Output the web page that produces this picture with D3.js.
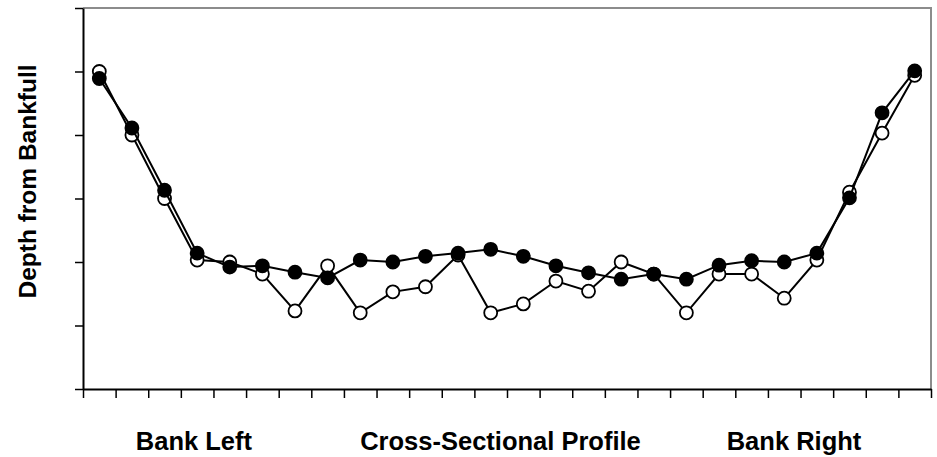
<!DOCTYPE html>
<html>
<head>
<meta charset="utf-8">
<script src="https://cdn.jsdelivr.net/npm/d3@7"></script>
<style>
  html, body { margin: 0; padding: 0; background: #fff; }
  svg { display: block; }
  text { font-family: "Liberation Sans", Arial, sans-serif; font-weight: bold; }
</style>
</head>
<body>
<script>
// survey stations across the channel, left bank to right bank
const stations = d3.range(1, 27);

// depth readings (axis units, 0 = bottom of axis)
const openSeries = [5.0, 4.0, 3.0, 2.03, 2.0, 1.81, 1.23, 1.94, 1.2, 1.53, 1.61, 2.11, 1.2,
  1.34, 1.7, 1.54, 2.0, 1.81, 1.2, 1.81, 1.81, 1.43, 2.03, 3.1, 4.03, 4.94];
const filledSeries = [4.89, 4.11, 3.13, 2.14, 1.92, 1.94, 1.84, 1.75, 2.03, 2.0, 2.09, 2.14, 2.2,
  2.09, 1.94, 1.83, 1.73, 1.81, 1.73, 1.95, 2.02, 2.0, 2.14, 3.01, 4.35, 5.01];

const yTicks = [0, 1, 2, 3, 4, 5, 6];
const xLabels = [
  { text: "Bank Left", at: 3.4 },
  { text: "Cross-Sectional Profile", at: 12.8 },
  { text: "Bank Right", at: 21.8 }
];

const width = 937, height = 457;
const plot = { left: 83, right: 931, top: 8, bottom: 389 };

const svg = d3.select("body").append("svg")
  .attr("width", width)
  .attr("height", height);

const x = d3.scaleLinear().domain([0, stations.length]).range([plot.left, plot.right]);
const y = d3.scaleLinear().domain([0, 6]).range([plot.bottom, plot.top]);

// gray frame on top and right
svg.append("path")
  .attr("d", `M${plot.left},${plot.top}H${plot.right}V${plot.bottom}`)
  .attr("fill", "none")
  .attr("stroke", "#8c8c8c")
  .attr("stroke-width", 2);

// axes
const yAxis = svg.append("g")
  .attr("transform", `translate(${plot.left},0)`)
  .call(d3.axisLeft(y).tickValues(yTicks).tickFormat("").tickSize(8).tickSizeOuter(0));

const xAxis = svg.append("g")
  .attr("transform", `translate(0,${plot.bottom})`)
  .call(d3.axisBottom(x).tickValues(d3.range(0, stations.length + 1)).tickFormat("").tickSize(9).tickSizeOuter(0));

[yAxis, xAxis].forEach(g => {
  g.select(".domain").attr("stroke", "#000").attr("stroke-width", 2);
  g.selectAll(".tick line").attr("stroke", "#000").attr("stroke-width", 1.5);
});

const line = d3.line()
  .x((d, i) => x(i + 0.5))
  .y(d => y(d));

function drawSeries(values, fill) {
  svg.append("path")
    .datum(values)
    .attr("d", line)
    .attr("fill", "none")
    .attr("stroke", "#000")
    .attr("stroke-width", 2);

  svg.append("g")
    .selectAll("circle")
    .data(values)
    .join("circle")
    .attr("cx", (d, i) => x(i + 0.5))
    .attr("cy", d => y(d))
    .attr("r", 6.5)
    .attr("fill", fill)
    .attr("stroke", "#000")
    .attr("stroke-width", 1.8);
}

drawSeries(openSeries, "#fff");
drawSeries(filledSeries, "#000");

// axis titles
svg.append("text")
  .attr("transform", `translate(36,${(plot.top + plot.bottom) / 2 - 17}) rotate(-90)`)
  .attr("text-anchor", "middle")
  .style("font-size", "24.5px")
  .text("Depth from Bankfull");

svg.selectAll(".xlabel")
  .data(xLabels)
  .join("text")
  .attr("class", "xlabel")
  .attr("x", d => x(d.at))
  .attr("y", 450)
  .attr("text-anchor", "middle")
  .style("font-size", "25.5px")
  .text(d => d.text);
</script>
</body>
</html>
